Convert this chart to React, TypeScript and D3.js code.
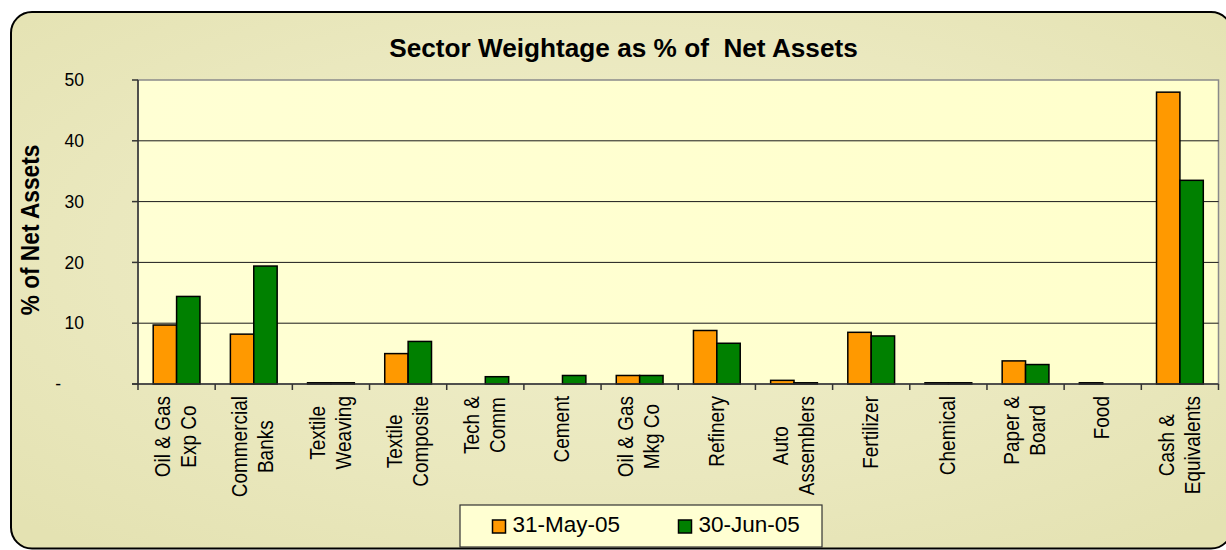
import React from 'react';
import * as d3 from 'd3';

const categories: string[][] = [
  ['Oil & Gas', 'Exp Co'],
  ['Commercial', 'Banks'],
  ['Textile', 'Weaving'],
  ['Textile', 'Composite'],
  ['Tech &', 'Comm'],
  ['Cement'],
  ['Oil & Gas', 'Mkg Co'],
  ['Refinery'],
  ['Auto', 'Assemblers'],
  ['Fertilizer'],
  ['Chemical'],
  ['Paper &', 'Board'],
  ['Food'],
  ['Cash &', 'Equivalents'],
];
const may05 = [9.7, 8.2, 0.2, 5.0, 0, 0, 1.4, 8.8, 0.6, 8.5, 0.2, 3.8, 0.2, 48.0];
const jun05 = [14.4, 19.4, 0.2, 7.0, 1.2, 1.4, 1.4, 6.7, 0.2, 7.9, 0.2, 3.2, 0, 33.5];
const seriesNames = ['31-May-05', '30-Jun-05'];
const seriesColors = ['#FF9900', '#008000'];
const yTicks = [0, 10, 20, 30, 40, 50];
const title = 'Sector Weightage as % of  Net Assets';
const yTitle = '% of Net Assets';

const FONT = '"Liberation Sans", Arial, Helvetica, sans-serif';

function measure(text: string, size: number): number {
  const c = document.createElement('canvas').getContext('2d');
  if (!c) return text.length * size * 0.5;
  c.font = `${size}px ${FONT}`;
  return c.measureText(text).width;
}

export default function App() {
  const W = 1226;
  const H = 550;
  const left = 138, right = 1218.5, top = 80, bottom = 384;

  const x = d3.scaleBand<number>().domain(d3.range(categories.length)).range([left, right]).padding(0);
  const inner = d3.scaleBand<number>().domain([0, 1]).range([0, x.bandwidth()]).paddingInner(0).paddingOuter(0.65);
  const y = d3.scaleLinear().domain([0, 50]).range([bottom, top]);

  const series = [may05, jun05];
  const labelSize = 19;
  const lineH = 26;

  return (
    <svg width={W} height={H} style={{ position: 'absolute', left: 0, top: 0 }} fontFamily={FONT}>
      <defs>
        <radialGradient id="bg" cx="50%" cy="45%" r="70%">
          <stop offset="0%" stopColor="#F0EFCB" />
          <stop offset="60%" stopColor="#EAE8BE" />
          <stop offset="100%" stopColor="#E4E2B2" />
        </radialGradient>
        <linearGradient id="plotbg" x1="0" x2="1" y1="0" y2="0">
          <stop offset="0%" stopColor="#FFFFD4" />
          <stop offset="100%" stopColor="#FFFFCC" />
        </linearGradient>
      </defs>
      <rect x={0} y={0} width={W} height={H} fill="#fff" />
      <rect x={11} y={12} width={1221} height={536.5} rx={21} ry={21} fill="url(#bg)" stroke="#000" strokeWidth={2} />

      <text x={623.5} y={56.5} textAnchor="middle" fontSize={26.2} fontWeight="bold" fill="#000" style={{ whiteSpace: 'pre' }}>{title}</text>

      {/* plot area */}
      <rect x={left} y={top} width={right - left} height={bottom - top} fill="url(#plotbg)" stroke="#8a8a8a" strokeWidth={1.5} />
      {yTicks.filter(t => t > 0 && t < 50).map(t => (
        <line key={t} x1={left} x2={right} y1={y(t)} y2={y(t)} stroke="#1a1a1a" strokeWidth={1} />
      ))}

      {/* bars */}
      {categories.map((_, i) => (
        <g key={i}>
          {series.map((s, k) => s[i] > 0 ? (
            <rect key={k} x={(x(i) as number) + (inner(k) as number)} y={y(s[i])} width={inner.bandwidth()} height={y(0) - y(s[i])}
              fill={seriesColors[k]} stroke="#000" strokeWidth={1.5} />
          ) : null)}
        </g>
      ))}

      {/* axes */}
      <line x1={left} x2={left} y1={top} y2={bottom + 0.5} stroke="#333" strokeWidth={1.5} />
      <line x1={left - 6} x2={right} y1={bottom} y2={bottom} stroke="#333" strokeWidth={1.5} />
      {yTicks.map(t => (
        <line key={t} x1={left - 6} x2={left} y1={y(t)} y2={y(t)} stroke="#333" strokeWidth={1.5} />
      ))}
      {d3.range(categories.length + 1).map(i => {
        const xx = i < categories.length ? (x(i) as number) : right;
        return <line key={i} x1={xx} x2={xx} y1={bottom} y2={bottom + 6} stroke="#333" strokeWidth={1.5} />;
      })}
      {yTicks.map(t => (
        t === 0 ? (
          <text key={t} x={61} y={y(t)} dy="0.35em" textAnchor="end" fontSize={17.5} fill="#000">-</text>
        ) : (
          <text key={t} x={84} y={y(t)} dy="0.35em" textAnchor="end" fontSize={17.5} fill="#000">{t}</text>
        )
      ))}

      {/* category labels */}
      {categories.map((lines, i) => {
        const cx = (x(i) as number) + x.bandwidth() / 2;
        const maxW = d3.max(lines, l => measure(l, labelSize)) as number;
        const cy = 396 + maxW / 2;
        const n = lines.length;
        return (
          <g key={i}>
            {lines.map((l, j) => {
              const bx = cx + 6.7 + (j - (n - 1) / 2) * lineH;
              return (
                <text key={j} transform={`translate(${bx},${cy}) rotate(-90) scale(1,1.2)`} textAnchor="middle" fontSize={labelSize} fill="#000">{l}</text>
              );
            })}
          </g>
        );
      })}

      <text transform="translate(39.3,230) rotate(-90) scale(1,1.15)" textAnchor="middle" fontSize={22.7} fontWeight="bold" fill="#000">{yTitle}</text>

      {/* legend */}
      <rect x={460} y={505} width={362} height={42} fill="#FFFFD2" stroke="#333" strokeWidth={1.2} />
      {seriesNames.map((nm, k) => {
        const lx = k === 0 ? 492.5 : 678.5;
        return (
          <g key={k}>
            <rect x={lx} y={520} width={13} height={13} fill={seriesColors[k]} stroke="#000" strokeWidth={1.5} />
            <text x={lx + 20} y={531.5} fontSize={22.5} fill="#000">{nm}</text>
          </g>
        );
      })}
    </svg>
  );
}
